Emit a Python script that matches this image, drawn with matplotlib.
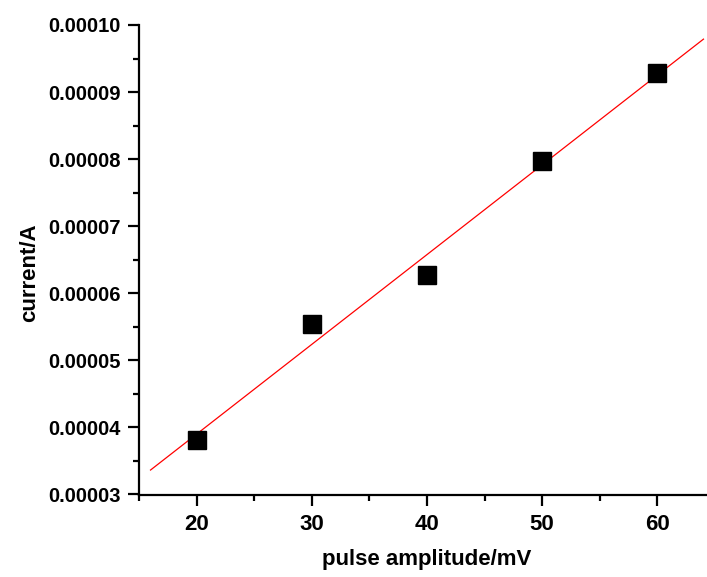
import numpy as np
import matplotlib.pyplot as plt
from matplotlib.ticker import MultipleLocator, FormatStrFormatter

plt.rcParams['font.family'] = ['Liberation Sans', 'DejaVu Sans']
plt.rcParams['font.weight'] = 'bold'

# data
amplitude = [20, 30, 40, 50, 60]          # mV
current = [3.81e-5, 5.545e-5, 6.27e-5, 7.97e-5, 9.29e-5]  # A

# linear fit drawn over 16..64 mV
slope, intercept = np.polyfit(amplitude, current, 1)
fit_x = np.array([16, 64])
fit_y = slope * fit_x + intercept

fig = plt.figure(figsize=(7.07, 5.77), dpi=100)
ax = fig.add_axes([139 / 707, 82.5 / 577, 576 / 707, 469.5 / 577])

ax.plot(fit_x, fit_y, color='red', lw=0.9)
ax.plot(amplitude, current, 's', color='black', ms=12.5)

ax.set_xlim(15, 65)
ax.set_ylim(0.00003, 0.00010)
ax.xaxis.set_major_locator(MultipleLocator(10))
ax.xaxis.set_minor_locator(MultipleLocator(5))
ax.yaxis.set_major_locator(MultipleLocator(0.00001))
ax.yaxis.set_minor_locator(MultipleLocator(0.000005))
ax.yaxis.set_major_formatter(FormatStrFormatter('%.5f'))

for side in ['top', 'right']:
    ax.spines[side].set_visible(False)
for side in ['left', 'bottom']:
    ax.spines[side].set_linewidth(1.6)

ax.tick_params(which='major', direction='out', length=8, width=1.6)
ax.tick_params(which='minor', direction='out', length=4.5, width=1.6)
ax.tick_params(axis='x', labelsize=16, pad=6)
ax.tick_params(axis='y', labelsize=14.5, pad=5)

ax.set_xlabel('pulse amplitude/mV', fontsize=16, fontweight='bold', labelpad=10)
ax.set_ylabel('current/A', fontsize=16, fontweight='bold')
ax.yaxis.set_label_coords(-0.172, 0.472)

fig.savefig('out.png', dpi=100)
